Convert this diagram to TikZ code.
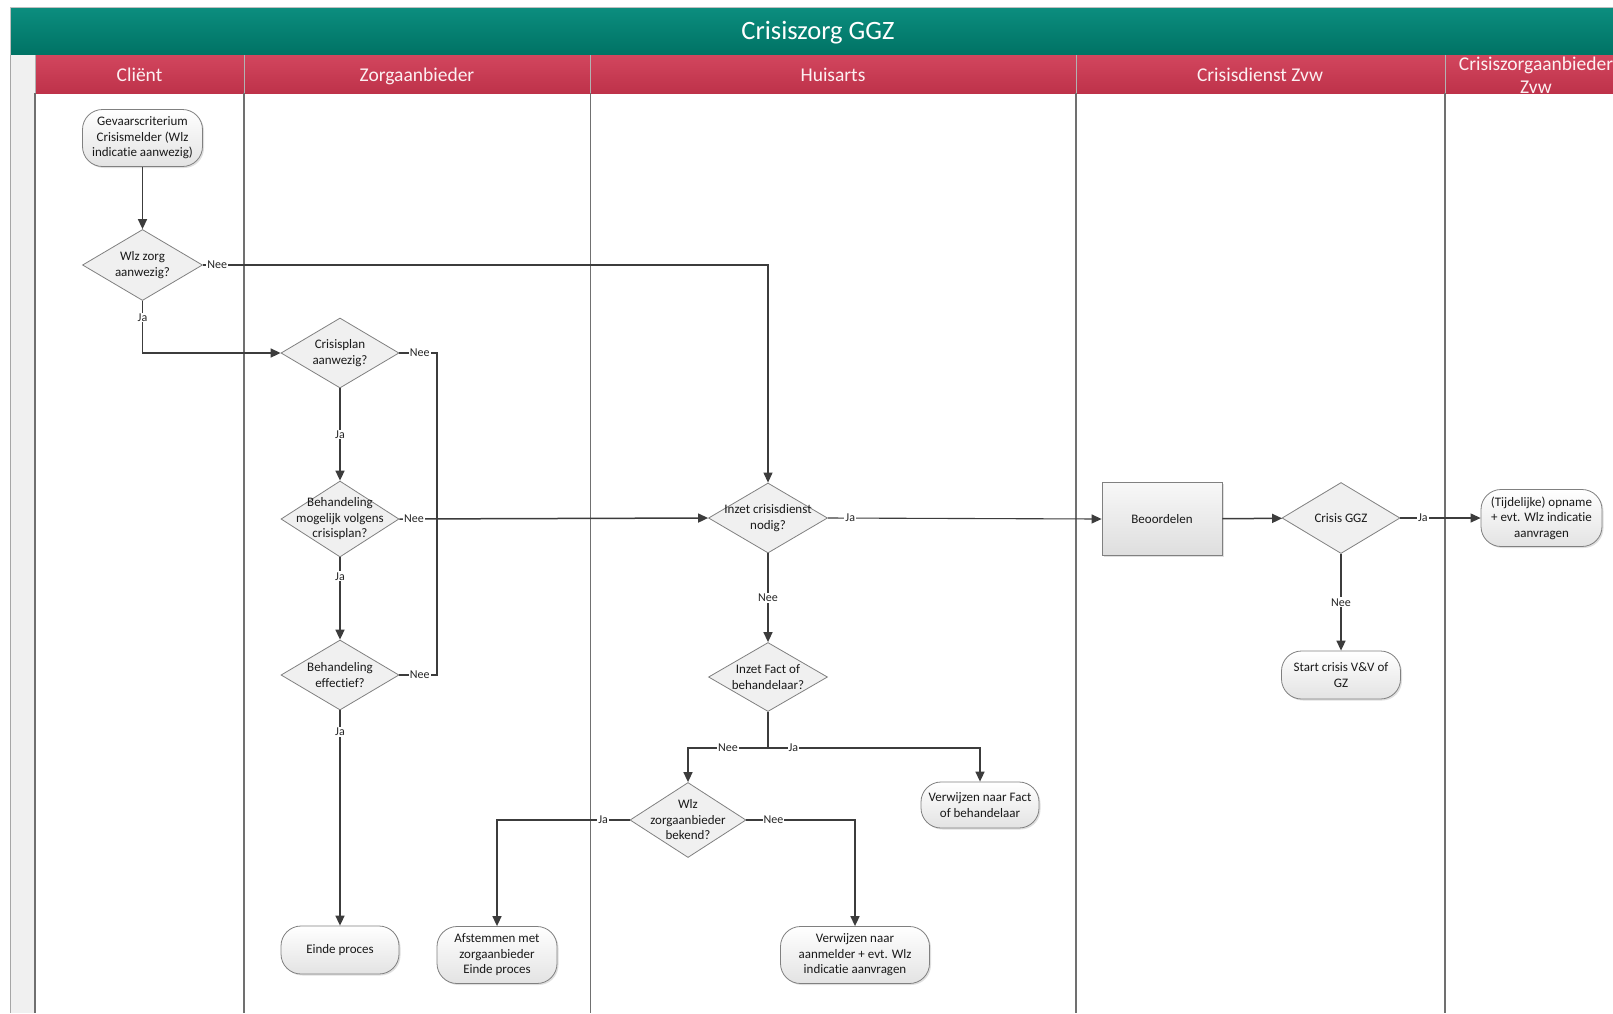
\documentclass[tikz,border=0pt]{standalone}
\usepackage{fontspec}
\setmainfont[Ligatures=NoCommon]{Carlito}
\usetikzlibrary{shapes.geometric,arrows.meta,shadows}

\definecolor{tealtop}{RGB}{12,142,127}
\definecolor{tealbot}{RGB}{0,114,100}
\definecolor{redtop}{RGB}{210,70,94}
\definecolor{redbot}{RGB}{190,50,74}
\definecolor{ink}{RGB}{60,60,60}
\definecolor{edge}{RGB}{128,128,128}
\definecolor{lanegray}{RGB}{112,112,112}
\definecolor{headtext}{RGB}{252,240,242}

\begin{document}
\begin{tikzpicture}[x=1pt,y=-1pt,
  terminal/.style={draw=edge, line width=0.8pt, rounded corners=20pt,
    top color=white, bottom color=black!11,
    drop shadow={shadow xshift=1.5pt, shadow yshift=-1.5pt, opacity=0.25},
    align=center, font=\fontsize{13}{15.5}\selectfont, text=black!90, inner sep=2pt},
  activity/.style={draw=edge, line width=0.8pt,
    top color=black!3, bottom color=black!13,
    drop shadow={shadow xshift=1.5pt, shadow yshift=-1.5pt, opacity=0.25},
    align=center, font=\fontsize{13}{15.5}\selectfont, text=black!90},
  decision/.style={diamond, draw=edge, line width=0.8pt, fill=black!6, inner sep=0pt},
  dtext/.style={align=center, font=\fontsize{13}{15.5}\selectfont, text=black!90},
  flow/.style={draw=ink, line width=1.5pt, -{Triangle[length=10pt,width=9pt]}},
  thinflow/.style={flow, line width=1.1pt},
  link/.style={draw=ink, line width=1.5pt},
  lbl/.style={fill=white, inner sep=1pt, font=\fontsize{12}{14}\selectfont, text=black!85},
  lanehead/.style={font=\fontsize{19.5}{23.5}\selectfont, text=headtext, align=center},
  divider/.style={draw=lanegray, line width=1.3pt}
]
\clip (0,0) rectangle (1613,1013);
\fill[white] (0,0) rectangle (1613,1013);

% title band and lane header band
\shade[top color=tealtop, bottom color=tealbot] (10,7) rectangle (1625,55);
\draw[black!25, line width=0.8pt] (10,1013) -- (10,7) -- (1625,7);
\node[font=\fontsize{26.5}{30}\selectfont, text=white] (title) at (818,32.5) {Crisiszorg GGZ};
\fill[black!6] (10,55) rectangle (35,1013);
\draw[black!35, line width=1pt] (10,55) -- (10,1013);
\shade[top color=redtop, bottom color=redbot] (35,55) rectangle (1625,93);

% lane dividers
\foreach \lx in {35,244,590.5,1076,1445} {
  \draw[black!30, line width=0.8pt] (\lx,55) -- (\lx,93);
  \draw[divider] (\lx,93) -- (\lx,1013);
}

% lane titles, set on a common baseline
\node[lanehead, anchor=base] (hclient) at (139.5,81) {Cliënt};
\node[lanehead, anchor=base] (hzorg) at (417,81) {Zorgaanbieder};
\node[lanehead, anchor=base] (hhuis) at (833,81) {Huisarts};
\node[lanehead, anchor=base] (hcrisis) at (1260,81) {Crisisdienst Zvw};
\node[lanehead] (hczvw) at (1536,75) {Crisiszorgaanbieder\\Zvw};

% Cliënt
\node[terminal, minimum width=120pt, minimum height=57pt] (start) at (142.5,138)
  {Gevaarscriterium\\Crisismelder (Wlz\\indicatie aanwezig)};
\node[decision, minimum width=120pt, minimum height=71pt,
  label={[dtext]center:{Wlz zorg\\aanwezig?}}] (wlz) at (142.5,265) {};

% Zorgaanbieder
\node[decision, minimum width=118pt, minimum height=70pt,
  label={[dtext]center:{Crisisplan\\aanwezig?}}] (cplan) at (340,353) {};
\node[decision, minimum width=118pt, minimum height=76pt,
  label={[dtext]center:{Behandeling\\mogelijk volgens\\crisisplan?}}] (bmog) at (340,519) {};
\node[decision, minimum width=118pt, minimum height=70pt,
  label={[dtext]center:{Behandeling\\effectief?}}] (beff) at (340,675) {};
\node[terminal, minimum width=118pt, minimum height=48pt] (einde) at (340,950) {Einde proces};
\node[terminal, minimum width=120pt, minimum height=57pt] (afst) at (497,955)
  {Afstemmen met\\zorgaanbieder\\Einde proces};

% Huisarts
\node[decision, minimum width=119pt, minimum height=70pt,
  label={[dtext]center:{Inzet crisisdienst\\nodig?}}] (inzet) at (768,518) {};
\node[decision, minimum width=119pt, minimum height=69pt,
  label={[dtext]center:{Inzet Fact of\\behandelaar?}}] (fact) at (768,677) {};
\node[decision, minimum width=116pt, minimum height=75pt,
  label={[dtext]center:{Wlz\\zorgaanbieder\\bekend?}}] (wlzb) at (688,820) {};
\node[terminal, minimum width=118pt, minimum height=46pt] (vfact) at (980,805)
  {Verwijzen naar Fact\\of behandelaar};
\node[terminal, minimum width=149pt, minimum height=57pt] (vaanm) at (855,955)
  {Verwijzen naar\\aanmelder + evt. Wlz\\indicatie aanvragen};

% Crisisdienst Zvw
\node[activity, minimum width=120pt, minimum height=73pt] (beoord) at (1162,519) {Beoordelen};
\node[decision, minimum width=118pt, minimum height=71pt,
  label={[dtext]center:{Crisis GGZ}}] (ggz) at (1341,518) {};
\node[terminal, minimum width=119pt, minimum height=48pt] (startvv) at (1341,675)
  {Start crisis V\&V of\\GZ};

% Crisiszorgaanbieder Zvw
\node[terminal, minimum width=121pt, minimum height=57pt] (opname) at (1541.5,518)
  {(Tijdelijke) opname\\+ evt. Wlz indicatie\\aanvragen};

% bend points
\coordinate (jn) at (437,519);
\coordinate (br) at (768,748);

% connectors
\draw[flow] (start) -- (wlz);
\draw[thinflow] (wlz.east) -| node[lbl, pos=0, anchor=west, xshift=3pt] (n1) {Nee} (inzet.north);
\draw[flow] (wlz.south) |- node[lbl, pos=0.16] (j1) {Ja} (cplan.west);
\draw[link] (cplan.east) -| node[lbl, pos=0.27] (n2) {Nee} (jn);
\draw[flow] (cplan) -- node[lbl] (j2) {Ja} (bmog);
\draw[flow] (bmog.east) -- node[lbl, pos=0, anchor=west, xshift=3pt] (n3) {Nee} (inzet.west);
\draw[flow] (bmog) -- node[lbl, pos=0.23] (j3) {Ja} (beff);
\draw[link] (beff.east) -| node[lbl, pos=0.27] (n4) {Nee} (jn);
\draw[flow] (beff) -- node[lbl, pos=0.1] (j4) {Ja} (einde);

\draw[thinflow] (inzet.east) -- node[lbl, pos=0, anchor=west, xshift=16pt] (j5) {Ja} (beoord.west);
\draw[flow] (inzet) -- node[lbl] (n5) {Nee} (fact);
\draw[link] (fact.south) -- (br);
\draw[flow] (br) -| node[lbl, pos=0.25] (n6) {Nee} (wlzb.north);
\draw[flow] (br) -| node[lbl, pos=0.06] (j6) {Ja} (vfact.north);
\draw[flow] (wlzb.west) -| node[lbl, pos=0.1] (j7) {Ja} (afst.north);
\draw[flow] (wlzb.east) -| node[lbl, pos=0.125] (n7) {Nee} (vaanm.north);

\draw[flow] (beoord) -- (ggz);
\draw[thinflow] (ggz) -- node[lbl, pos=0.28] (j8) {Ja} (opname);
\draw[flow] (ggz) -- node[lbl] (n8) {Nee} (startvv);
\end{tikzpicture}
\end{document}
